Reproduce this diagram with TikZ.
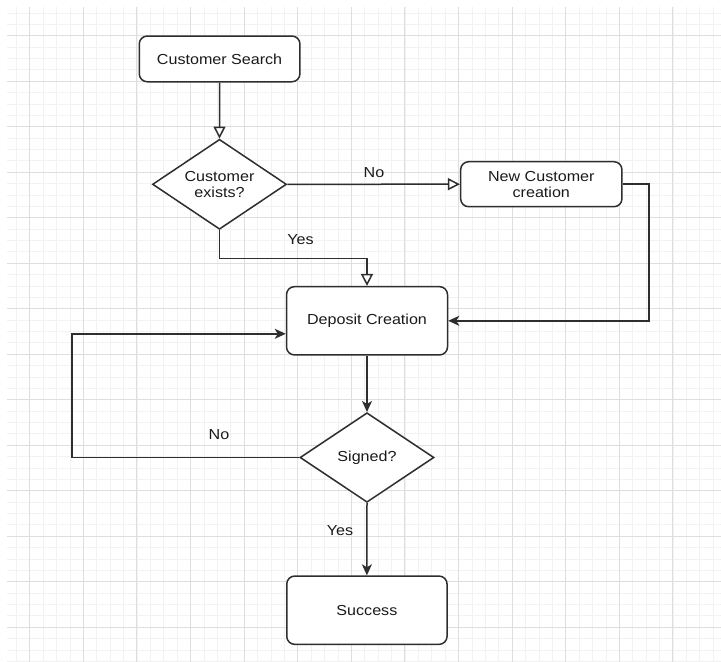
\documentclass[tikz,border=0pt]{standalone}
\usepackage{fontspec}
\setmainfont{Liberation Sans}[FakeStretch=1.11]
\usetikzlibrary{shapes.geometric,arrows.meta,calc}
\definecolor{linec}{HTML}{2E2E2E}
\definecolor{txtc}{HTML}{1A1A1A}
\definecolor{majorc}{HTML}{DEDEDE}
\definecolor{minorc}{HTML}{F2F2F2}
\tikzset{
  boxnode/.style={draw=linec, line width=1.5pt, rounded corners=8pt, fill=white,
    inner sep=0pt, align=center, text=txtc,
    font=\fontsize{14.5}{15.7}\selectfont},
  decnode/.style={draw=linec, line width=1.5pt, diamond, fill=white, inner sep=0pt,
    aspect=1.49, align=center, text=txtc,
    font=\fontsize{14.5}{15.7}\selectfont},
  conn/.style={draw=linec, line width=1.5pt},
  openarr/.style={conn, -{Triangle[open,length=12pt,width=12pt,fill=white]}},
  fillarr/.style={conn, -{Stealth[length=11pt,width=10pt,inset=3pt]}},
  lbl/.style={text=txtc, inner sep=0pt, font=\fontsize{14.5}{15.7}\selectfont},
  minorline/.style={draw=minorc, line width=0.8pt},
  majorline/.style={draw=majorc, line width=1.1pt}
}
\begin{document}
\begin{tikzpicture}[x=1pt,y=-1pt]
\useasboundingbox (0,0) rectangle (721,662);
\fill[white] (0,0) rectangle (721,662);
\begin{scope}
\clip (7,7) rectangle (721,662);
\foreach \i in {0,...,53} {\draw[minorline] ({2.9+13.4*\i},7) -- ({2.9+13.4*\i},662);}
\foreach \i in {0,...,58} {\draw[minorline] (7,{1.575+11.375*\i}) -- (721,{1.575+11.375*\i});}
\foreach \i in {0,...,13} {\draw[majorline] ({29.7+53.6*\i},7) -- ({29.7+53.6*\i},662);}
\foreach \i in {0,...,14} {\draw[majorline] (7,{35.7+45.5*\i}) -- (721,{35.7+45.5*\i});}
\end{scope}

\node[boxnode, minimum width=160.7pt, minimum height=45.7pt] (cs) at (219.6,58.9) {Customer Search};
\node[decnode, minimum width=134pt, minimum height=90pt] (ce) at (219.5,184.3) {Customer\\exists?};
\node[boxnode, minimum width=161.3pt, minimum height=45pt] (nc) at (541.3,184.2) {New Customer\\creation};
\node[boxnode, minimum width=161pt, minimum height=68.3pt] (dc) at (367,320.8) {Deposit Creation};
\node[decnode, minimum width=134pt, minimum height=89.6pt] (sg) at (367,457.5) {Signed?};
\node[boxnode, minimum width=160.3pt, minimum height=68.3pt] (su) at (366.9,610.2) {Success};

\coordinate (yb) at (219.5,258.3);
\coordinate (rc) at (649,184.2);
\coordinate (lc) at (72,457.5);

\draw[openarr] (cs.south) -- (ce.north);
\draw[openarr] (ce.east) -- (nc.west);
\draw[openarr] (ce.south) -- (yb) -| (dc.north);
\draw[fillarr] (nc.east) -- (rc) |- (dc.east);
\draw[fillarr] (dc.south) -- (sg.north);
\draw[fillarr] (sg.west) -- (lc) |- ([yshift=-13pt]dc.west);
\draw[fillarr] (sg.south) -- (su.north);

\node[lbl] (lno1) at (374,172.5) {No};
\node[lbl] (lyes1) at (300.5,240) {Yes};
\node[lbl] (lno2) at (219,435) {No};
\node[lbl] (lyes2) at (340,531) {Yes};
\end{tikzpicture}
\end{document}
